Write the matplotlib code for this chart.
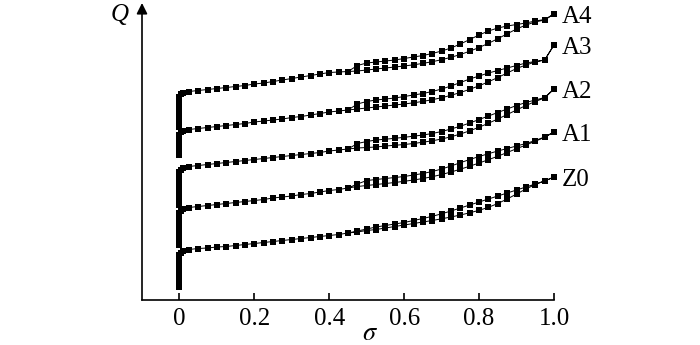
import matplotlib
matplotlib.use("Agg")
import matplotlib.pyplot as plt
import numpy as np

# sigma grids
sig_up = [0.003, 0.01] + [round(0.025 * i, 3) for i in range(1, 41)]
sig_down = [round(0.975 - 0.025 * i, 3) for i in range(22)]

# Q values (arbitrary units)
nomes = ["Z0", "A1", "A2", "A3", "A4"]

q_vert = {
    "Z0": [1.3, 1.55, 1.8, 2.05, 2.3, 2.55, 2.8, 3.05, 3.3, 3.55, 3.8, 4.05, 4.3, 4.5],
    "A1": [5.5, 5.75, 6.0, 6.25, 6.5, 6.75, 7.0, 7.25, 7.5, 7.75, 8.0, 8.25, 8.5, 8.7],
    "A2": [9.5, 9.75, 10.0, 10.25, 10.5, 10.75, 11.0, 11.25, 11.5, 11.75, 12.0, 12.25, 12.5, 12.8],
    "A3": [14.5, 14.75, 15.0, 15.25, 15.5, 15.75, 16.0, 16.25, 16.55],
    "A4": [17.3, 17.55, 17.8, 18.05, 18.3, 18.55, 18.8, 19.05, 19.3, 19.55, 19.8, 20.05, 20.35],
}

q_up = {
    "Z0": [4.75, 4.9, 5.05, 5.15, 5.2, 5.3, 5.35, 5.45, 5.55, 5.65, 5.75, 5.85, 5.95, 6.05, 6.15,
           6.25, 6.35, 6.45, 6.55, 6.7, 6.8, 6.95, 7.05, 7.2, 7.35, 7.5, 7.65, 7.8, 7.95,
           8.12, 8.3, 8.5, 8.72, 8.97, 9.27, 9.65, 10.1, 10.6, 11.1, 11.55, 11.9, 12.3],
    "A1": [8.95, 9.15, 9.25, 9.35, 9.45, 9.55, 9.65, 9.75, 9.85, 9.95, 10.05, 10.2, 10.3, 10.4,
           10.55, 10.65, 10.8, 10.95, 11.05, 11.2, 11.35, 11.45, 11.55, 11.65, 11.75, 11.87,
           12.0, 12.15, 12.33, 12.55, 12.8, 13.08, 13.38, 13.7, 14.03, 14.38, 14.75, 15.13,
           15.5, 15.87, 16.27, 16.8],
    "A2": [13.05, 13.25, 13.35, 13.45, 13.55, 13.65, 13.75, 13.85, 13.95, 14.05, 14.15, 14.25,
           14.35, 14.45, 14.55, 14.65, 14.75, 14.9, 15.0, 15.1, 15.2, 15.25, 15.3, 15.4,
           15.47, 15.55, 15.65, 15.78, 15.92, 16.1, 16.32, 16.6, 16.92, 17.28, 17.68, 18.1,
           18.55, 19.0, 19.45, 19.85, 20.2, 21.1],
    "A3": [16.8, 16.95, 17.05, 17.15, 17.25, 17.35, 17.45, 17.55, 17.65, 17.8, 17.9, 18.0, 18.1,
           18.25, 18.35, 18.5, 18.65, 18.8, 18.9, 19.0, 19.1, 19.2, 19.3, 19.4, 19.5, 19.6,
           19.72, 19.86, 20.03, 20.23, 20.47, 20.75, 21.07, 21.42, 21.82, 22.25, 22.7, 23.15,
           23.5, 23.8, 24.0, 25.5],
    "A4": [20.6, 20.75, 20.85, 20.95, 21.05, 21.15, 21.25, 21.35, 21.45, 21.6, 21.7, 21.85, 22.0,
           22.15, 22.3, 22.45, 22.6, 22.75, 22.8, 22.85, 22.9, 23.0, 23.1, 23.2, 23.3, 23.4,
           23.52, 23.66, 23.83, 24.03, 24.27, 24.55, 24.88, 25.25, 25.67, 26.13, 26.62, 27.1,
           27.5, 27.8, 28.0, 28.6],
}

q_down = {
    "Z0": [11.9, 11.6, 11.3, 11.0, 10.7, 10.4, 10.1, 9.8, 9.5, 9.2, 8.9, 8.62, 8.37,
           8.15, 7.95, 7.75, 7.6, 7.45, 7.3, 7.1, 6.9, 6.7],
    "A1": [16.3, 15.95, 15.65, 15.4, 15.15, 14.9, 14.63, 14.35, 14.05, 13.73, 13.4, 13.1,
           12.85, 12.65, 12.5, 12.35, 12.25, 12.15, 12.05, 11.95, 11.6, 11.2],
    "A2": [20.25, 20.0, 19.75, 19.45, 19.1, 18.75, 18.4, 18.05, 17.7, 17.38, 17.1, 16.85,
           16.65, 16.5, 16.38, 16.27, 16.17, 16.08, 16.0, 15.85, 15.65, 15.1],
    "A3": [24.0, 23.85, 23.7, 23.45, 23.2, 22.95, 22.7, 22.4, 22.1, 21.75, 21.4, 21.1,
           20.85, 20.65, 20.5, 20.35, 20.2, 20.1, 20.0, 19.85, 19.6, 19.0],
    "A4": [28.05, 27.9, 27.7, 27.55, 27.4, 27.2, 26.9, 26.5, 26.05, 25.6, 25.2, 24.9,
           24.65, 24.45, 24.3, 24.15, 24.0, 23.9, 23.8, 23.7, 23.45, 22.85],
}

xticks = [0, 0.2, 0.4, 0.6, 0.8, 1.0]
xticklabels = ["0", "0.2", "0.4", "0.6", "0.8", "1.0"]


def main():
    plt.rcParams['font.family'] = ['Liberation Serif', 'DejaVu Serif']
    fig = plt.figure(figsize=(7, 3.45), dpi=100)
    ax = fig.add_axes([142 / 700, 45 / 345, 412 / 700, 297 / 345])

    for nome in nomes:
        x = [0.0] * len(q_vert[nome]) + sig_up + sig_down
        y = q_vert[nome] + q_up[nome] + q_down[nome]
        ax.plot(x, y, color='k', lw=0.7, marker='s', markersize=3.8,
                markeredgewidth=0, clip_on=False)
        ax.text(1.02, q_up[nome][-1] - 0.3, nome, fontsize=18,
                va='center', ha='left')

    ax.set_xlim(-0.1, 1.0)
    ax.set_ylim(0, 29.7)
    ax.set_xticks(xticks)
    ax.set_xticklabels(xticklabels)
    ax.set_yticks([])
    ax.tick_params(axis='x', direction='in', length=5, width=1.2,
                   labelsize=18, pad=6)
    for lado in ['top', 'right', 'left']:
        ax.spines[lado].set_visible(False)
    ax.spines['bottom'].set_linewidth(1.2)

    # eixo y com seta
    ax.annotate('', xy=(0, 1), xycoords='axes fraction', xytext=(0, 0),
                arrowprops=dict(arrowstyle='-|>', lw=1.2, color='k',
                                mutation_scale=16, shrinkA=0, shrinkB=0))

    fig.text(120 / 700, 1 - 15 / 345, 'Q', fontsize=18, style='italic',
             ha='center', va='center')
    fig.text(370 / 700, 1 - 334 / 345, r'$\sigma$', fontsize=19,
             ha='center', va='center', math_fontfamily='stix')

    fig.savefig('out.png', dpi=100)


if __name__ == "__main__":
    main()
